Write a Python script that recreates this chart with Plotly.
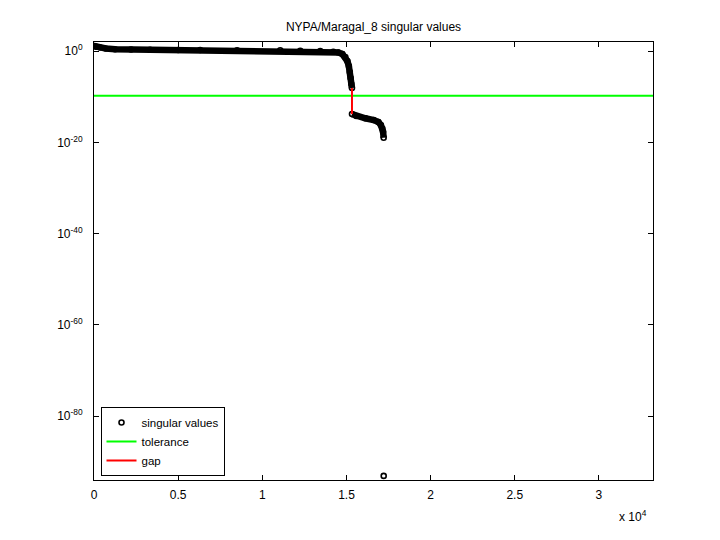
import plotly.graph_objects as go

# ---- data ----
n_total = 33212  # number of singular values (x-axis extent)

upper_index = [1, 150, 357, 700, 1249, 2200, 3331, 5000, 6306, 8500, 11065,
               12255, 13444, 14218, 14515, 14753, 14931, 15051, 15140, 15199,
               15247, 15289, 15327]
upper_value = [13.0, 9.0, 6.2, 3.8, 2.5, 2.2, 2.0, 1.8, 1.7, 1.6, 1.5,
               1.2, 1.05, 0.74, 0.49, 0.23, 0.051, 6.8e-3, 5.5e-4, 2.6e-5,
               1.3e-6, 6.3e-8, 8.1e-9]

lower_index = [15328, 15586, 16121, 16615, 16895, 17044, 17133, 17174, 17210]
lower_value = [1.6e-14, 6.0e-15, 1.9e-15, 7.9e-16, 2.9e-16, 6.3e-17, 1.1e-17,
               2.1e-18, 1.05e-19]

outlier_index = [17212]
outlier_value = [7.9e-94]

tolerance = 1.6e-10

xtick_vals = [0, 5000, 10000, 15000, 20000, 25000, 30000]
xtick_text = ["0", "0.5", "1", "1.5", "2", "2.5", "3"]
ytick_vals = [1e0, 1e-20, 1e-40, 1e-60, 1e-80]
ytick_text = ["10<sup>0</sup>", "10<sup>-20</sup>", "10<sup>-40</sup>",
              "10<sup>-60</sup>", "10<sup>-80</sup>"]

FONT = "Liberation Sans, Arial, Helvetica, sans-serif"
FS = 12

# page body adds an 8px offset; compensate in the margins
OFF = 8
L, T, PW, PH = 94 - OFF, 42 - OFF, 558.7, 438

fig = go.Figure()

# dense band of overlapping markers (drawn as a thick line through the read points)
fig.add_trace(go.Scatter(
    x=upper_index + [None] + lower_index,
    y=upper_value + [None] + lower_value,
    mode="lines",
    line=dict(color="black", width=6.5),
    showlegend=False, hoverinfo="skip", connectgaps=False,
))

all_index = upper_index + lower_index + outlier_index
all_value = upper_value + lower_value + outlier_value
fig.add_trace(go.Scatter(
    x=all_index, y=all_value, mode="markers",
    marker=dict(symbol="circle-open", size=5, color="black",
                line=dict(color="black", width=1.6)),
    name="singular values",
))

fig.add_trace(go.Scatter(
    x=[0, n_total], y=[tolerance, tolerance], mode="lines",
    line=dict(color="#00ff00", width=2), name="tolerance",
))

fig.add_trace(go.Scatter(
    x=[upper_index[-1], upper_index[-1]], y=[upper_value[-1], lower_value[0]],
    mode="lines", line=dict(color="#ff0000", width=2), name="gap",
))

fig.update_layout(
    width=720, height=540,
    margin=dict(l=L, r=720 - L - PW, t=T, b=540 - T - PH, autoexpand=False),
    paper_bgcolor="white", plot_bgcolor="white",
    font=dict(family=FONT, size=FS, color="black"),
    title=dict(text="NYPA/Maragal_8 singular values", x=0.5, xref="paper",
               y=1 - (27 - OFF) / 540, yanchor="middle", xanchor="center",
               font=dict(family=FONT, size=FS, color="black")),
    legend=dict(x=(100.5 - 94) / PW, y=(480 - 476) / PH, xanchor="left",
                yanchor="bottom",
                bordercolor="black", borderwidth=1, bgcolor="white",
                font=dict(family=FONT, size=11.5, color="black"),
                tracegroupgap=0),
    showlegend=True,
)

fig.update_xaxes(
    range=[0, n_total], tickvals=xtick_vals, ticktext=xtick_text,
    showgrid=False, zeroline=False, showline=True, linecolor="black",
    linewidth=1, mirror="allticks", ticks="inside", ticklen=5,
    tickcolor="black", ticklabelstandoff=4,
)
fig.update_yaxes(
    type="log", range=[-94, 2], tickvals=ytick_vals, ticktext=ytick_text,
    showgrid=False, zeroline=False, showline=True, linecolor="black",
    linewidth=1, mirror="allticks", ticks="inside", ticklen=5,
    tickcolor="black", ticklabelstandoff=8,
)

fig.add_annotation(
    text="x 10<sup>4</sup>", xref="paper", yref="paper",
    x=(649 - 94) / PW, y=(480 - 516) / PH, xanchor="right",
    yanchor="middle", showarrow=False,
    font=dict(family=FONT, size=FS, color="black"),
)

fig.write_html("out.html")
